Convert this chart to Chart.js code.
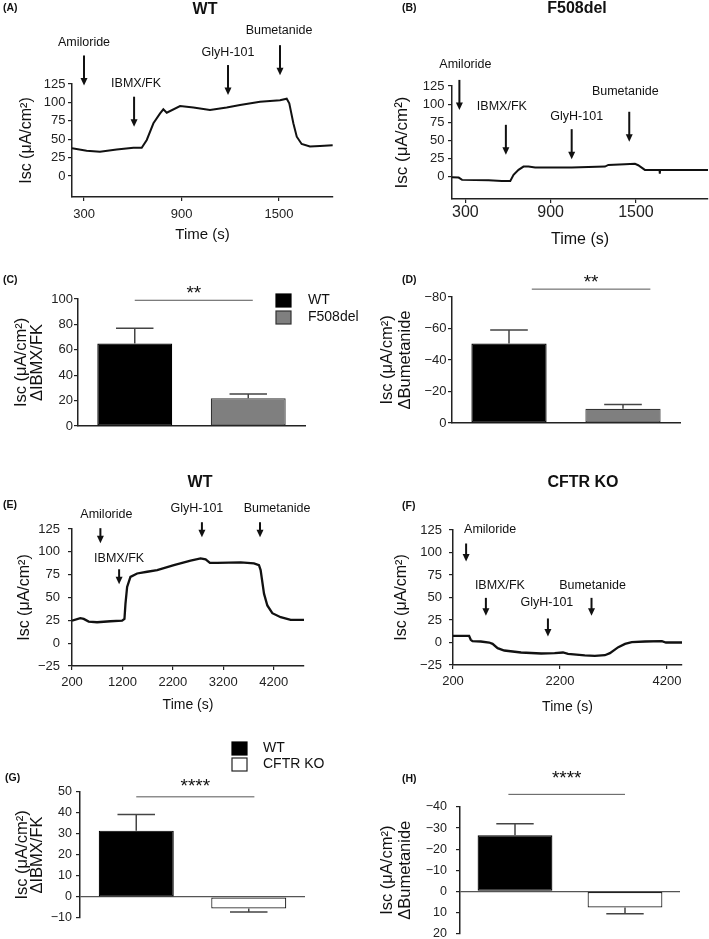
<!DOCTYPE html>
<html>
<head>
<meta charset="utf-8">
<script src="https://cdn.jsdelivr.net/npm/chart.js@4/dist/chart.umd.min.js"></script>
<style>
body { margin: 0; background: #fff; width: 709px; height: 939px; position: relative; overflow: hidden; }
canvas { position: absolute; }
</style>
</head>
<body>
<canvas id="cA"></canvas>
<canvas id="cB"></canvas>
<canvas id="cC"></canvas>
<canvas id="cD"></canvas>
<canvas id="cE"></canvas>
<canvas id="cF"></canvas>
<canvas id="cG"></canvas>
<canvas id="cH"></canvas>
<script>
// traces: time (s) and Isc (uA/cm2)
var timeA = [226, 316, 398, 501, 604, 655, 686, 727, 768, 788, 809, 891, 973, 1075, 1178, 1260, 1383, 1506, 1547, 1563, 1588, 1609, 1639, 1690, 1752, 1830];
var iscA = [37.6, 34.4, 33, 36, 38.5, 38.5, 49, 71.6, 85, 90.6, 86, 95, 93, 89.7, 93, 96.5, 101, 103, 105, 98.7, 71.6, 53.4, 43.5, 40, 40.8, 41.7];
var timeB = [206, 253, 277, 464, 557, 616, 639, 674, 709, 744, 791, 1048, 1282, 1306, 1423, 1493, 1516, 1563, 1633, 1666, 1668, 1670, 2007];
var iscB = [-1, -1.4, -4.6, -5, -6, -6, 2.3, 9.2, 13.8, 13.8, 12.4, 12.4, 13.8, 16, 17, 17.5, 15.6, 9.2, 9.2, 9.2, 4, 9.2, 9.2];
var timeE = [200, 365, 432, 531, 697, 962, 1193, 1240, 1260, 1293, 1359, 1491, 1690, 1889, 2220, 2551, 2750, 2849, 2935, 3081, 3544, 3808, 3907, 3940, 4007, 4073, 4172, 4338, 4536, 4800];
var iscE = [24.7, 27.3, 26.5, 23.6, 22.9, 24, 24.7, 26.5, 43, 61.6, 72.6, 76.3, 78.2, 80, 85.5, 90.3, 92.9, 91.8, 88, 88, 88.5, 87.4, 85.5, 80, 54.2, 41.3, 32.8, 28.4, 25.4, 25.4];
var timeF = [200, 501, 532, 564, 720, 877, 940, 1034, 1159, 1473, 1849, 2100, 2257, 2351, 2664, 2852, 3040, 3134, 3291, 3417, 3542, 3793, 4106, 4181, 4482];
var iscF = [7.4, 7.4, 3, 1.5, 1.1, 0, -1.5, -6.3, -8.9, -11.1, -12.2, -11.8, -11.1, -12.6, -14.4, -14.8, -14.1, -11.8, -5.2, -1.5, 0.4, 1.1, 1.5, 0, 0];

// drug additions: time of addition and the Isc level the arrow points to
var drugs = ['Amiloride', 'IBMX/FK', 'GlyH-101', 'Bumetanide'];
var addA = [300, 608, 1186, 1506], markA = [123, 67, 110, 137];
var addB = [258, 585, 1048, 1453], markB = [92, 30, 24, 48];
var addE = [763, 1134, 2776, 3928], markE = [109.5, 64.5, 116, 116];
var addF = [445, 815, 1975, 2790], markF = [90, 29.6, 6.7, 29.6];

// summary bars, mean and SEM
var groupsCD = ['WT', 'F508del'];
var ibmxCD = [65, 21.8], ibmxCDsem = [12, 3.4];
var bumCD = [-50.5, -9], bumCDsem = [8.5, 2.8];
var groupsGH = ['WT', 'CFTR KO'];
var ibmxGH = [31.6, -5.5], ibmxGHsem = [7.7, 1.6];
var bumGH = [-26.6, 7.7], bumGHsem = [5.4, 2.9];

// tick labels
var yTicksAB = [0, 25, 50, 75, 100, 125];
var yTicksEF = [-25, 0, 25, 50, 75, 100, 125];
var xTicksAB = [300, 900, 1500];
var xTicksE = [200, 1200, 2200, 3200, 4200];
var xTicksF = [200, 2200, 4200];
var yTicksC = [0, 20, 40, 60, 80, 100];
var yTicksD = [-80, -60, -40, -20, 0];
var yTicksG = [-10, 0, 10, 20, 30, 40, 50];
var yTicksH = [-40, -30, -20, -10, 0, 10, 20];

var FONT = "'Liberation Sans', Arial, sans-serif";
Chart.defaults.font.family = FONT;
Chart.defaults.color = '#222';

var ISC = 'Isc (\u03bcA/cm\u00b2)';
var extras = {};

function fmt(v) { return v < 0 ? '\u2212' + Math.abs(v) : '' + v; }
function pts(xs, ys) { return xs.map(function (x, i) { return {x: x, y: ys[i]}; }); }

var marks = {
  id: 'marks',
  afterDraw: function (chart) {
    var e = extras[chart.canvas.id];
    if (!e) return;
    var ctx = chart.ctx, sx = chart.scales.x, sy = chart.scales.y;
    var ox = e.cv[0], oy = e.cv[1];
    ctx.save();
    ctx.fillStyle = '#111';
    ctx.strokeStyle = '#111';
    ctx.textBaseline = 'middle';
    ctx.textAlign = 'left';
    ctx.font = 'bold 10.5px ' + FONT;
    ctx.fillText(e.letter[0], e.letter[1] - ox, e.letter[2] - oy);
    if (e.title) {
      ctx.font = 'bold 16px ' + FONT;
      ctx.textAlign = 'center';
      ctx.fillText(e.title[0], e.title[1] - ox, e.title[2] - oy);
    }
    if (e.arrows) {
      var ar = e.arrows;
      ctx.font = '12.5px ' + FONT;
      ctx.textAlign = 'center';
      ctx.lineWidth = 2;
      drugs.forEach(function (nm, i) {
        var px = sx.getPixelForValue(ar.times[i]);
        var tip = sy.getPixelForValue(ar.levels[i]);
        var tail = tip - ar.len;
        ctx.beginPath();
        ctx.moveTo(px, tail);
        ctx.lineTo(px, tip - 6);
        ctx.stroke();
        ctx.beginPath();
        ctx.moveTo(px - 3.5, tip - 7.5);
        ctx.lineTo(px + 3.5, tip - 7.5);
        ctx.lineTo(px, tip);
        ctx.closePath();
        ctx.fill();
        ctx.fillText(nm, px + ar.dx[i], tail - ar.dy[i]);
      });
    }
    if (e.err) {
      var meta = chart.getDatasetMeta(0);
      ctx.strokeStyle = '#444';
      ctx.lineWidth = 1.5;
      meta.data.forEach(function (bar, i) {
        var v = e.err.vals[i], s = e.err.sem[i];
        var y0 = sy.getPixelForValue(v);
        var y1 = sy.getPixelForValue(v + (v < 0 ? -s : s));
        var hw = bar.width / 4;
        ctx.beginPath();
        ctx.moveTo(bar.x, y0);
        ctx.lineTo(bar.x, y1);
        ctx.moveTo(bar.x - hw, y1);
        ctx.lineTo(bar.x + hw, y1);
        ctx.stroke();
      });
    }
    if (e.sig) {
      var g = e.sig;
      var yy = sy.getPixelForValue(g.level);
      var x1 = sx.getPixelForValue(g.from), x2 = sx.getPixelForValue(g.to);
      ctx.strokeStyle = '#555';
      ctx.lineWidth = 1;
      ctx.beginPath();
      ctx.moveTo(x1, yy);
      ctx.lineTo(x2, yy);
      ctx.stroke();
      ctx.fillStyle = '#111';
      ctx.font = '19px ' + FONT;
      ctx.textAlign = 'center';
      ctx.textBaseline = 'alphabetic';
      ctx.fillText(g.text, (x1 + x2) / 2, yy - g.gap);
    }
    if (e.legend) {
      var lg = e.legend, ds = chart.data.datasets[0];
      ctx.font = '14px ' + FONT;
      ctx.textAlign = 'left';
      ctx.textBaseline = 'middle';
      ctx.lineWidth = 1.2;
      chart.data.labels.forEach(function (nm, i) {
        var lx = lg.x - ox, ly = lg.y - oy + i * lg.step;
        ctx.fillStyle = ds.backgroundColor[i];
        ctx.fillRect(lx, ly, 15, 13);
        ctx.strokeStyle = ds.borderColor[i];
        ctx.strokeRect(lx, ly, 15, 13);
        ctx.fillStyle = '#111';
        ctx.fillText(nm, lx + lg.tx, ly + 6.5);
      });
    }
    ctx.restore();
  }
};

function axisY(o) {
  return {
    type: 'linear', min: o.min, max: o.max, reverse: !!o.reverse,
    afterBuildTicks: function (s) { s.ticks = o.ticks.map(function (v) { return {value: v}; }); },
    ticks: {autoSkip: false, font: {size: o.fs || 13}, color: '#222', padding: o.tp, callback: fmt},
    grid: {
      drawOnChartArea: !!o.zero, lineWidth: 1.2, tickLength: 4, tickColor: '#222',
      color: function (c) { return c.tick && c.tick.value === 0 ? '#555' : 'rgba(0,0,0,0)'; }
    },
    border: {display: true, color: '#222', width: 1.5},
    title: {display: true, text: o.title, color: '#111', font: {size: o.tfs, lineHeight: o.tlh || 1.2}, padding: {top: o.tpad, bottom: 0}}
  };
}

function axisTime(o) {
  return {
    type: 'linear', min: o.min, max: o.max,
    afterBuildTicks: function (s) { s.ticks = o.ticks.map(function (v) { return {value: v}; }); },
    ticks: {autoSkip: false, maxRotation: 0, font: {size: o.fs}, color: '#222', padding: o.tp, callback: fmt},
    grid: {drawOnChartArea: false, tickLength: 4, tickColor: '#222', lineWidth: 1.2},
    border: {display: true, color: '#222', width: 1.5},
    title: {display: true, text: 'Time (s)', color: '#111', font: {size: o.tfs}, padding: {top: 0, bottom: o.tpad}}
  };
}

function axisGroups(line) {
  return {
    type: 'category', offset: true,
    ticks: {display: false}, grid: {display: false},
    border: {display: line, color: '#222', width: 1.5}
  };
}

function makeChart(p) {
  var cv = p.cv, a = p.area;
  var el = document.getElementById(p.id);
  el.width = cv[2];
  el.height = cv[3];
  el.style.left = cv[0] + 'px';
  el.style.top = cv[1] + 'px';
  var yW = a[0] - cv[0], xH = cv[1] + cv[3] - a[3];
  p.x.afterFit = function (s) { s.height = xH; };
  p.y.afterFit = function (s) { s.width = yW; };
  p.extra.cv = cv;
  extras[p.id] = p.extra;
  return new Chart(el, {
    type: p.type,
    data: {labels: p.labels, datasets: p.datasets},
    options: {
      responsive: false, animation: false, events: [],
      layout: {padding: {left: 0, top: a[1] - cv[1], right: cv[0] + cv[2] - a[2], bottom: 0}},
      plugins: {legend: {display: false}, tooltip: {enabled: false}},
      scales: {x: p.x, y: p.y}
    },
    plugins: [marks]
  });
}

function trace(xs, ys, w) {
  return {data: pts(xs, ys), borderColor: '#111', borderWidth: w, pointRadius: 0, tension: 0, fill: false};
}

// (A) WT trace
makeChart({
  id: 'cA', cv: [0, 0, 354, 250], area: [72, 84, 333, 197], type: 'line',
  datasets: [trace(timeA, iscA, 2)],
  x: axisTime({min: 226, max: 1832, ticks: xTicksAB, fs: 13, tp: 6, tfs: 15, tpad: 6}),
  y: axisY({min: -28.5, max: 125, ticks: yTicksAB, tp: 2.5, title: ISC, tfs: 16, tpad: 17.4}),
  extra: {letter: ['(A)', 3, 8], title: ['WT', 205, 10],
    arrows: {times: addA, levels: markA, len: 30, dx: [0, 2, 0, -1], dy: [13, 13, 12, 15]}}
});

// (B) F508del trace
makeChart({
  id: 'cB', cv: [354, 0, 355, 250], area: [452, 86, 708, 199], type: 'line',
  datasets: [trace(timeB, iscB, 2)],
  x: axisTime({min: 206, max: 2007, ticks: xTicksAB, fs: 16, tp: 0, tfs: 16, tpad: 0.4}),
  y: axisY({min: -31, max: 125, ticks: yTicksAB, tp: 3.5, title: ISC, tfs: 17, tpad: 37.8}),
  extra: {letter: ['(B)', 402, 8], title: ['F508del', 577, 9],
    arrows: {times: addB, levels: markB, len: 30, dx: [6, -4, 5, -4], dy: [15, 18, 13, 20]}}
});

// (C) delta IBMX/FK, WT vs F508del
makeChart({
  id: 'cC', cv: [0, 250, 372, 190], area: [78, 299, 305, 426], type: 'bar', labels: groupsCD,
  datasets: [{data: ibmxCD, backgroundColor: ['#000000', '#7f7f7f'], borderColor: ['#000000', '#333333'],
    borderWidth: 1.2, borderSkipped: false, barPercentage: 0.66, categoryPercentage: 1}],
  x: axisGroups(true),
  y: axisY({min: 0, max: 100, ticks: yTicksC, tp: 1, title: [ISC, '\u0394IBMX/FK'], tfs: 16.5, tlh: 0.95, tpad: 14}),
  extra: {letter: ['(C)', 3, 280], err: {vals: ibmxCD, sem: ibmxCDsem},
    sig: {from: 0, to: 1.04, level: 99, text: '**', gap: 1},
    legend: {x: 276, y: 294, step: 17, tx: 32}}
});

// (D) delta bumetanide, WT vs F508del
makeChart({
  id: 'cD', cv: [372, 250, 337, 190], area: [452, 297, 680, 423], type: 'bar', labels: groupsCD,
  datasets: [{data: bumCD, backgroundColor: ['#000000', '#7f7f7f'], borderColor: ['#000000', '#333333'],
    borderWidth: 1.2, borderSkipped: false, barPercentage: 0.66, categoryPercentage: 1}],
  x: axisGroups(true),
  y: axisY({min: -80, max: 0, reverse: true, ticks: yTicksD, tp: 1.5, title: [ISC, '\u0394Bumetanide'], tfs: 16.5, tlh: 1.09, tpad: 6}),
  extra: {letter: ['(D)', 402, 280], err: {vals: bumCD, sem: bumCDsem},
    sig: {from: 0.2, to: 1.24, level: -85, text: '**', gap: 1}}
});

// (E) WT trace, long run
makeChart({
  id: 'cE', cv: [0, 440, 354, 280], area: [72, 529, 304, 666], type: 'line',
  datasets: [trace(timeE, iscE, 2.3)],
  x: axisTime({min: 200, max: 4800, ticks: xTicksE, fs: 13, tp: 4.5, tfs: 14, tpad: 6.6}),
  y: axisY({min: -25, max: 125, ticks: yTicksEF, tp: 8, title: ISC, tfs: 16, tpad: 15.4}),
  extra: {letter: ['(E)', 3, 505], title: ['WT', 200, 483],
    arrows: {times: addE, levels: markE, len: 15, dx: [6, 0, -5, 17], dy: [14, 11, 14, 14]}}
});

// (F) CFTR KO trace
makeChart({
  id: 'cF', cv: [354, 440, 355, 280], area: [453, 530, 682, 665], type: 'line',
  datasets: [trace(timeF, iscF, 2.3)],
  x: axisTime({min: 200, max: 4482, ticks: xTicksF, fs: 13, tp: 4.5, tfs: 14, tpad: 4.6}),
  y: axisY({min: -25, max: 125, ticks: yTicksEF, tp: 7, title: ISC, tfs: 16, tpad: 38}),
  extra: {letter: ['(F)', 402, 506], title: ['CFTR KO', 583, 483],
    arrows: {times: addF, levels: markF, len: 18, dx: [24, 14, -1, 1], dy: [14, 12, 16, 12]}}
});

// (G) delta IBMX/FK, WT vs CFTR KO
makeChart({
  id: 'cG', cv: [0, 720, 354, 230], area: [80, 792, 305, 918], type: 'bar', labels: groupsGH,
  datasets: [{data: ibmxGH, backgroundColor: ['#000000', '#ffffff'], borderColor: ['#000000', '#222222'],
    borderWidth: 1.2, borderSkipped: false, barPercentage: 0.667, categoryPercentage: 1}],
  x: axisGroups(false),
  y: axisY({min: -10, max: 50, ticks: yTicksG, tp: 4, fs: 12.5, zero: true, title: [ISC, '\u0394IBMX/FK'], tfs: 16.5, tlh: 0.95, tpad: 14.2}),
  extra: {letter: ['(G)', 5, 778], err: {vals: ibmxGH, sem: ibmxGHsem},
    sig: {from: 0, to: 1.05, level: 47.7, text: '****', gap: 5},
    legend: {x: 232, y: 742, step: 16, tx: 31}}
});

// (H) delta bumetanide, WT vs CFTR KO
makeChart({
  id: 'cH', cv: [354, 720, 355, 230], area: [460, 807, 680, 935], type: 'bar', labels: groupsGH,
  datasets: [{data: bumGH, backgroundColor: ['#000000', '#ffffff'], borderColor: ['#000000', '#222222'],
    borderWidth: 1.2, borderSkipped: false, barPercentage: 0.68, categoryPercentage: 1}],
  x: axisGroups(false),
  y: axisY({min: -40, max: 20, reverse: true, ticks: yTicksH, tp: 9, fs: 12.5, zero: true, title: [ISC, '\u0394Bumetanide'], tfs: 16.5, tlh: 1.09, tpad: 24}),
  extra: {letter: ['(H)', 402, 779], err: {vals: bumGH, sem: bumGHsem},
    sig: {from: -0.06, to: 1.0, level: -46, text: '****', gap: 10}}
});
</script>
</body>
</html>
